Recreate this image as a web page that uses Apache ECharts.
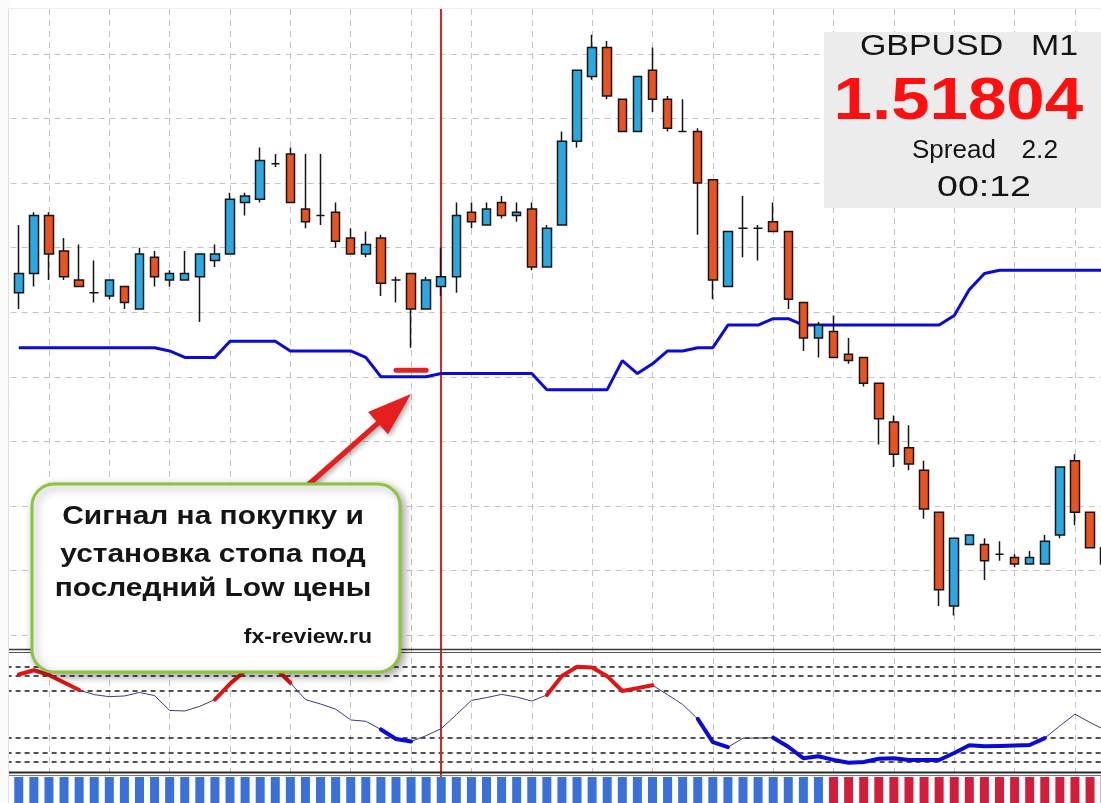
<!DOCTYPE html>
<html>
<head>
<meta charset="utf-8">
<title>GBPUSD M1</title>
<script src="https://cdn.jsdelivr.net/npm/echarts@6/dist/echarts.min.js"></script>
<style>
  html, body { margin: 0; padding: 0; background: #fff; }
  #chart { width: 1101px; height: 803px; }
</style>
</head>
<body>
<div id="chart"></div>
<script>
// M1 bars, left to right
var opens  = [1.51826,1.51832,1.51850,1.51839,1.51830,1.51826,1.51825,1.51828,1.51821,1.51837,
              1.51830,1.51830,1.51831,1.51836,1.51838,1.51854,1.51855,1.51866,1.51869,1.51852,
              1.51850,1.51851,1.51843,1.51838,1.51843,1.51830,1.51832,1.51821,1.51828,1.51831,
              1.51851,1.51847,1.51854,1.51850,1.51852,1.51834,1.51847,1.51873,1.51893,1.51902,
              1.51886,1.51876,1.51895,1.51886,1.51876,1.51876,1.51861,1.51828,1.51846,1.51846,
              1.51848,1.51845,1.51823,1.51812,1.51814,1.51807,1.51806,1.51798,1.51786,1.51778,
              1.51771,1.51758,1.51729,1.51748,1.51748,1.51745,1.51744,1.51742,1.51742,1.51751,
              1.51774,1.51758,1.51747];
var closes = [1.51832,1.51850,1.51838,1.51831,1.51828,1.51826,1.51830,1.51823,1.51838,1.51831,
              1.51832,1.51832,1.51838,1.51838,1.51855,1.51856,1.51867,1.51866,1.51854,1.51848,
              1.51850,1.51842,1.51838,1.51841,1.51829,1.51830,1.51821,1.51830,1.51831,1.51850,
              1.51848,1.51852,1.51850,1.51851,1.51834,1.51846,1.51873,1.51895,1.51902,1.51887,
              1.51876,1.51893,1.51886,1.51877,1.51876,1.51860,1.51830,1.51845,1.51846,1.51846,
              1.51845,1.51824,1.51812,1.51816,1.51806,1.51805,1.51798,1.51787,1.51776,1.51773,
              1.51759,1.51734,1.51750,1.51751,1.51743,1.51745,1.51742,1.51744,1.51749,1.51772,
              1.51758,1.51747,1.51742];
var lows   = [1.51821,1.51828,1.51830,1.51830,1.51828,1.51823,1.51824,1.51821,1.51821,1.51828,
              1.51828,1.51830,1.51817,1.51834,1.51838,1.51850,1.51854,1.51865,1.51854,1.51846,
              1.51847,1.51840,1.51838,1.51837,1.51825,1.51823,1.51809,1.51821,1.51825,1.51826,
              1.51846,1.51847,1.51849,1.51848,1.51833,1.51834,1.51847,1.51871,1.51892,1.51886,
              1.51876,1.51876,1.51882,1.51876,1.51876,1.51844,1.51824,1.51828,1.51837,1.51836,
              1.51845,1.51821,1.51808,1.51806,1.51806,1.51804,1.51797,1.51779,1.51772,1.51771,
              1.51756,1.51729,1.51726,1.51748,1.51737,1.51743,1.51741,1.51742,1.51742,1.51750,
              1.51754,1.51747,1.51742];
var highs  = [1.51847,1.51851,1.51851,1.51843,1.51841,1.51836,1.51830,1.51828,1.51840,1.51839,
              1.51833,1.51839,1.51838,1.51841,1.51857,1.51857,1.51871,1.51869,1.51871,1.51869,
              1.51869,1.51854,1.51846,1.51845,1.51844,1.51831,1.51832,1.51831,1.51840,1.51854,
              1.51854,1.51854,1.51856,1.51854,1.51854,1.51847,1.51876,1.51895,1.51906,1.51904,
              1.51886,1.51893,1.51902,1.51887,1.51886,1.51877,1.51861,1.51845,1.51856,1.51847,
              1.51854,1.51845,1.51823,1.51817,1.51819,1.51812,1.51806,1.51798,1.51788,1.51785,
              1.51774,1.51758,1.51750,1.51751,1.51750,1.51749,1.51745,1.51746,1.51751,1.51772,
              1.51776,1.51758,1.51747];

// blue trailing stop
var trail = [1.51809,1.51809,1.51809,1.51809,1.51809,1.51809,1.51809,1.51809,1.51809,1.51809,
             1.51808,1.51806,1.51806,1.51806,1.51811,1.51811,1.51811,1.51811,1.51808,1.51808,
             1.51808,1.51808,1.51808,1.51806,1.51800,1.51800,1.51800,1.51800,1.51801,1.51801,
             1.51801,1.51801,1.51801,1.51801,1.51801,1.51796,1.51796,1.51796,1.51796,1.51796,
             1.51805,1.51801,1.51804,1.51808,1.51808,1.51809,1.51809,1.51816,1.51816,1.51816,
             1.51818,1.51818,1.51816,1.51816,1.51816,1.51816,1.51816,1.51816,1.51816,1.51816,
             1.51816,1.51816,1.51819,1.51827,1.51832,1.51833,1.51833,1.51833,1.51833,1.51833,
             1.51833,1.51833,1.51833];

// lower window oscillator, r = overbought run, b = oversold run
var osc = [82.1,85.6,81.7,75.4,69.1,65.3,63.6,64.2,67.1,64.5,
           52.1,51.7,55.6,61.2,74.3,85.0,90.8,87.5,75.2,61.2,
           57.5,53.2,44.2,43.1,36.3,28.3,26.3,31.1,37.0,48.6,
           60.5,62.8,65.5,63.3,60.0,65.0,80.8,88.5,87.9,80.7,
           68.3,70.7,73.1,65.3,57.1,45.1,25.7,21.5,29.0,29.2,
           29.4,21.9,12.3,14.0,10.9,8.6,9.2,11.9,12.2,10.8,
           10.8,10.8,16.7,23.2,22.2,22.5,22.9,23.3,29.1,39.3,
           49.0,42.1,35.8];
var oscState = ('rrrrr........rrrrrr.....bbb........rrrrrrrr..bbb..' +
                'bbbbbbbbbbbbbbbbbbb....').split('');
var oscLevels = [88.5, 81, 68.5, 29, 17, 9];

// bottom trend strip: 1 up, -1 down
var trend = [1,1,1,1,1,1,1,1,1,1, 1,1,1,1,1,1,1,1,1,1,
             1,1,1,1,1,1,1,1,1,1, 1,1,1,1,1,1,1,1,1,1,
             1,1,1,1,1,1,1,1,1,1, 1,1,1,1,-1,-1,-1,-1,-1,-1,
             -1,-1,-1,-1,-1,-1,-1,-1,-1,-1, -1,-1,-1];

var bidLevel = 1.51805;
var askLevel = 1.51724;
var signalBar = 28;
var stopFrom = 25, stopTo = 27, stopPrice = 1.51802;

var priceMin = 1.5172, priceMax = 1.5192, priceStep = 0.0002;

// first bar sits two bars right of a chart grid line, grid lines every 4 bars
var SHIFT = 2;
function bx(i) { return i + SHIFT; }

var candles = opens.map(function (o, i) { return [bx(i), o, closes[i], lows[i], highs[i]]; });
var trailData = trail.map(function (v, i) { return [bx(i), v]; });
var stopData = [];
for (var i = stopFrom; i <= stopTo; i++) stopData.push([bx(i), stopPrice]);
var oscThin = osc.map(function (v, i) { return [bx(i), v]; });
var oscRed = osc.map(function (v, i) { return [bx(i), oscState[i] === 'r' ? v : null]; });
var oscBlue = osc.map(function (v, i) { return [bx(i), oscState[i] === 'b' ? v : null]; });
var trendData = trend.map(function (t, i) {
  return { value: [bx(i), 1], itemStyle: { color: t > 0 ? '#3a70d8' : '#d21e3c' } };
});

var LEFT = -11.4, WIDTH = 1146.7;
var grids = [
  { top: -10.55, height: 645.5 },  // price
  { top: 653, height: 120 },       // oscillator
  { top: 777, height: 30 },        // trend strip
  { top: 9, height: 763 },         // vertical grid
  { top: 9, height: 794 }          // signal line
].map(function (g) {
  g.left = LEFT; g.width = WIDTH; g.outerBoundsMode = 'none'; g.containLabel = false;
  return g;
});

var noAxis = { axisLine: { show: false }, axisTick: { show: false }, axisLabel: { show: false } };
var xAxes = grids.map(function (g, gi) {
  return Object.assign({
    type: 'value', gridIndex: gi, min: 0, max: 76, interval: 4, show: gi === 3,
    splitLine: { show: gi === 3, lineStyle: { color: '#c4c4c4', type: [6, 5], width: 1 } }
  }, noAxis);
});
var yAxes = [
  Object.assign({
    type: 'value', gridIndex: 0, min: priceMin, max: priceMax, interval: priceStep,
    splitLine: { show: true, lineStyle: { color: '#c4c4c4', type: [6, 5], width: 1 } }
  }, noAxis),
  { type: 'value', gridIndex: 1, min: 0, max: 100, show: false },
  { type: 'value', gridIndex: 2, min: 0, max: 1, show: false },
  { type: 'value', gridIndex: 3, min: 0, max: 1, show: false },
  { type: 'value', gridIndex: 4, min: 0, max: 1, show: false }
];

function arrowPoints(tail, tip, headLen, headHalf, shaftHalf) {
  var dx = tip[0] - tail[0], dy = tip[1] - tail[1];
  var len = Math.sqrt(dx * dx + dy * dy);
  var ux = dx / len, uy = dy / len, nx = -uy, ny = ux;
  var bxp = tip[0] - ux * headLen, byp = tip[1] - uy * headLen;
  return [
    [tail[0] + nx * shaftHalf, tail[1] + ny * shaftHalf],
    [bxp + nx * shaftHalf, byp + ny * shaftHalf],
    [bxp + nx * headHalf, byp + ny * headHalf],
    tip,
    [bxp - nx * headHalf, byp - ny * headHalf],
    [bxp - nx * shaftHalf, byp - ny * shaftHalf],
    [tail[0] - nx * shaftHalf, tail[1] - ny * shaftHalf]
  ];
}

function label(text, x, y, font, align, sx, color) {
  return {
    type: 'text', x: x, y: y, scaleX: sx || 1, z: 120, silent: true,
    style: {
      text: text, font: font, fill: color || '#141414',
      textAlign: align, align: align, textVerticalAlign: 'middle', verticalAlign: 'middle'
    }
  };
}
function hline(y, color, w) {
  return { type: 'line', z: 90, silent: true, shape: { x1: 8.5, y1: y, x2: 1101, y2: y },
           style: { stroke: color, lineWidth: w } };
}

var SANS = '"Liberation Sans", Arial, sans-serif';

var option = {
  animation: false,
  backgroundColor: '#ffffff',
  grid: grids,
  xAxis: xAxes,
  yAxis: yAxes,
  series: [
    {
      name: 'trail', type: 'line', xAxisIndex: 0, yAxisIndex: 0, z: 1,
      data: trailData, symbol: 'none',
      lineStyle: { color: '#0b0bd6', width: 3 },
      markLine: {
        silent: true, symbol: ['none', 'none'], label: { show: false },
        data: [
          { yAxis: bidLevel, lineStyle: { color: '#6a2626', type: [6, 4], width: 1.5 } },
          { yAxis: askLevel, lineStyle: { color: '#cccccc', type: 'solid', width: 1 } }
        ]
      }
    },
    {
      name: 'bars', type: 'candlestick', xAxisIndex: 0, yAxisIndex: 0, z: 2,
      data: candles, encode: { x: 0, y: [1, 2, 3, 4] }, barWidth: 9,
      itemStyle: {
        color: '#2aa8e0', color0: '#e8531f',
        borderColor: '#151515', borderColor0: '#151515', borderColorDoji: '#151515',
        borderWidth: 1.5
      }
    },
    {
      name: 'stop', type: 'line', xAxisIndex: 0, yAxisIndex: 0, z: 3,
      data: stopData, symbol: 'none',
      lineStyle: { color: '#e22222', width: 5, cap: 'round' }
    },
    {
      name: 'osc', type: 'line', xAxisIndex: 1, yAxisIndex: 1, z: 2,
      data: oscThin, symbol: 'none',
      lineStyle: { color: '#3c3c7c', width: 1 },
      markLine: {
        silent: true, symbol: ['none', 'none'], label: { show: false }, z: 1,
        lineStyle: { color: '#1a1a1a', type: [5, 4], width: 1.5 },
        data: oscLevels.map(function (v) { return { yAxis: v }; })
      }
    },
    {
      name: 'oscUp', type: 'line', xAxisIndex: 1, yAxisIndex: 1, z: 3,
      data: oscRed, symbol: 'none', connectNulls: false,
      lineStyle: { color: '#e01414', width: 4, cap: 'round', join: 'round' }
    },
    {
      name: 'oscDown', type: 'line', xAxisIndex: 1, yAxisIndex: 1, z: 3,
      data: oscBlue, symbol: 'none', connectNulls: false,
      lineStyle: { color: '#0a0ad8', width: 4, cap: 'round', join: 'round' }
    },
    {
      name: 'trend', type: 'bar', xAxisIndex: 2, yAxisIndex: 2,
      data: trendData, barWidth: 9
    },
    {
      name: 'signal', type: 'line', xAxisIndex: 4, yAxisIndex: 4, z: 1,
      data: [[bx(signalBar), 0.5]], symbol: 'none', lineStyle: { opacity: 0 },
      markLine: {
        silent: true, symbol: ['none', 'none'], label: { show: false }, z: 1,
        lineStyle: { color: '#d62428', width: 2, type: 'solid' },
        data: [{ xAxis: bx(signalBar) }]
      }
    }
  ],
  graphic: [
    { type: 'rect', z: 100, silent: true, shape: { x: 0, y: 0, width: 8.5, height: 803 },
      style: { fill: '#fafafa' } },
    { type: 'line', z: 100, silent: true, shape: { x1: 8.5, y1: 8.5, x2: 8.5, y2: 803 },
      style: { stroke: '#e0e0e0', lineWidth: 1 } },
    { type: 'line', z: 100, silent: true, shape: { x1: 8.5, y1: 8.5, x2: 1101, y2: 8.5 },
      style: { stroke: '#eeeeee', lineWidth: 1 } },
    hline(649.5, '#3a3a3a', 1.5), hline(652.5, '#555555', 1),
    hline(772.5, '#2a2a2a', 2), hline(775.5, '#777777', 1),

    // symbol panel
    { type: 'rect', z: 110, silent: true, shape: { x: 824, y: 32, width: 280, height: 176 },
      style: { fill: '#ececec' } },
    label('GBPUSD', 860, 47, '30px ' + SANS, 'left', 1.13),
    label('M1', 1078, 47, '30px ' + SANS, 'right', 1.13),
    label('1.51804', 1083, 102, 'bold 60px ' + SANS, 'right', 1.15, '#ff0f0f'),
    label('Spread', 912, 151, '25px ' + SANS, 'left', 1.04),
    label('2.2', 1058, 151, '25px ' + SANS, 'right', 1.05),
    label('00:12', 984, 188, '30px ' + SANS, 'center', 1.25),

    // callout
    { type: 'polygon', z: 105, silent: true,
      shape: { points: arrowPoints([300, 492], [411, 394], 44, 15, 2.6) },
      style: { fill: '#e61e1e', shadowBlur: 5, shadowColor: 'rgba(0,0,0,0.35)',
               shadowOffsetX: 2, shadowOffsetY: 2 } },
    { type: 'rect', z: 110, silent: true,
      shape: { x: 32, y: 484, width: 368, height: 188, r: 22 },
      style: { fill: '#ffffff', stroke: '#8cc43f', lineWidth: 3,
               shadowBlur: 8, shadowColor: 'rgba(0,0,0,0.35)', shadowOffsetX: 3, shadowOffsetY: 3 } },
    label('Сигнал на покупку и', 213, 517, 'bold 26px ' + SANS, 'center', 1.15),
    label('установка стопа под', 213, 555, 'bold 26px ' + SANS, 'center', 1.15),
    label('последний Low цены', 213, 589, 'bold 26px ' + SANS, 'center', 1.15),
    label('fx-review.ru', 372, 637, 'bold 20px ' + SANS, 'right', 1.15)
  ]
};

var chart = echarts.init(document.getElementById('chart'), null, { renderer: 'canvas' });
chart.setOption(option);
</script>
</body>
</html>
